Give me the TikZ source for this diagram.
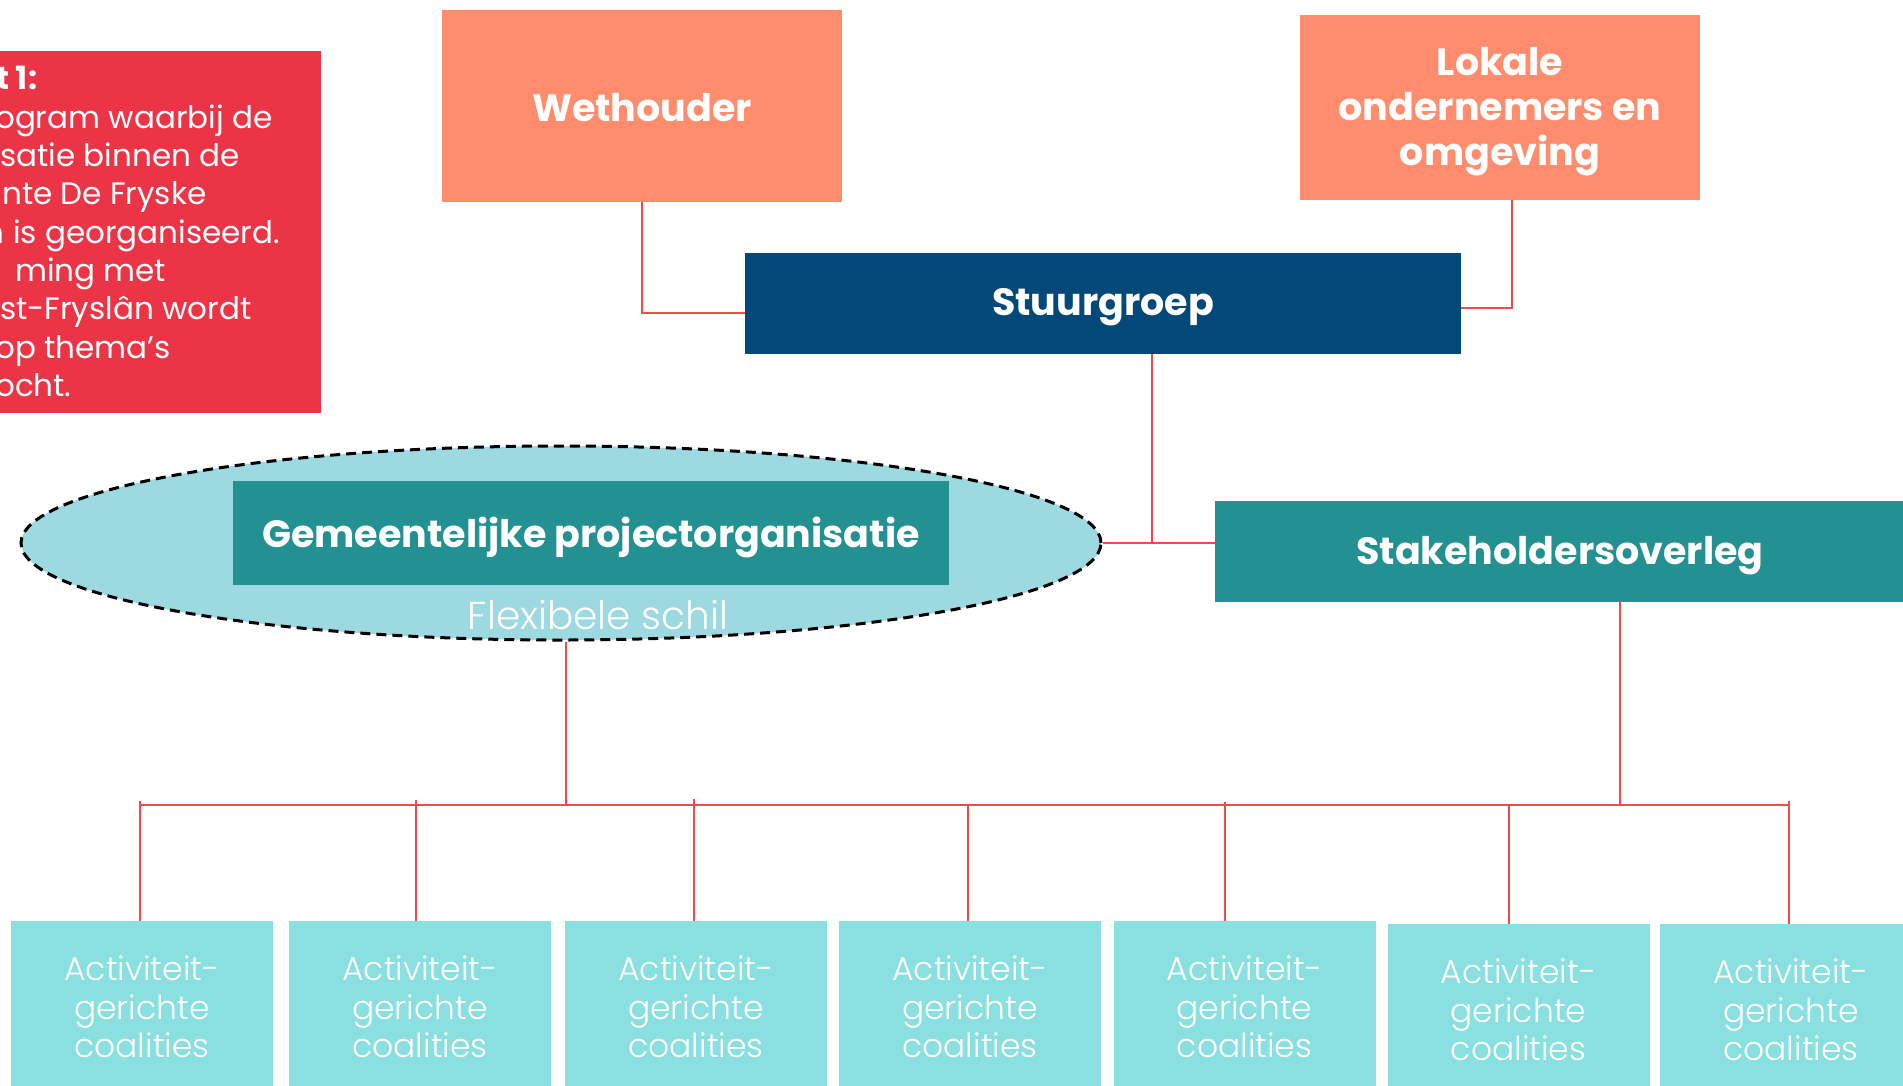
\documentclass[tikz,border=0pt]{standalone}
\usepackage{fontspec}
\setmainfont{Poppins}
\newfontfamily\lightfont{Poppins Light}
\usetikzlibrary{shapes.geometric,calc}
\definecolor{salmon}{HTML}{FF8C6C}
\definecolor{navy}{HTML}{02497A}
\definecolor{tealbox}{HTML}{239192}
\definecolor{shell}{HTML}{9CD9E0}
\definecolor{coal}{HTML}{8AE0E1}
\definecolor{redbox}{HTML}{EC3447}
\definecolor{linered}{HTML}{F04A4A}
\tikzset{
  box/.style={rectangle, inner sep=0pt, outer sep=0pt, text=white, align=center},
  headlbl/.style={label={[font=\fontsize{38}{45}\selectfont\bfseries, text=white, align=center, inner sep=0pt, yshift=-4pt]center:#1}},
  headlblup/.style={label={[font=\fontsize{38}{45}\selectfont\bfseries, text=white, align=center, inner sep=0pt, yshift=-1.5pt]center:#1}},
  coalbox/.style={box, fill=coal, minimum width=262pt, minimum height=172pt,
    font=\lightfont\fontsize{33}{38.5}\selectfont},
  conn/.style={draw=linered, line width=1.5pt},
  redtext/.style={anchor=base west, inner sep=0pt, text=white, font=\fontsize{31}{38}\selectfont},
}
\begin{document}
\begin{tikzpicture}[x=1pt,y=-1pt]
\useasboundingbox (0,0) rectangle (1903,1085);
\clip (0,0) rectangle (1903,1085);
\fill[white] (0,0) rectangle (1903,1085);

% red text box
\fill[redbox] (-10,51) rectangle (321,413);
\node[redtext, font=\fontsize{32}{38}\selectfont\bfseries] (r1) at (-4,89) {t 1:};
\node[redtext] (r2) at (-5,128) {ogram waarbij de};
\node[redtext] (r3) at (0,166) {satie binnen de};
\node[redtext] (r4) at (2,204) {nte De Fryske};
\node[redtext] (r5a) at (-16,243) {n};
\node[redtext] (r5) at (13,243) {is georganiseerd.};
\node[redtext] (r6) at (15,281) {ming met};
\node[redtext] (r7) at (0,319) {st-Fryslân wordt};
\node[redtext] (r8) at (-5,358) {op thema’s};
\node[redtext] (r9) at (-5,396) {ocht.};

% top boxes
\node[box, fill=salmon, minimum width=400pt, minimum height=192pt, headlblup={Wethouder}] (wet) at (642,106) {};
\node[box, fill=salmon, minimum width=400pt, minimum height=185pt, headlbl={Lokale\\ondernemers en\\omgeving}] (lok) at (1500,107.5) {};
\node[box, fill=navy, minimum width=716pt, minimum height=101pt, headlbl={Stuurgroep}] (stuur) at (1103,303.5) {};

% shell
\node[ellipse, fill=shell, draw=black, dash pattern=on 10pt off 6pt, line width=3pt,
  minimum width=1080pt, minimum height=194pt, inner sep=0pt] (ell) at (561,543) {};
\node[box, fill=tealbox, minimum width=716pt, minimum height=104pt, headlbl={Gemeentelijke projectorganisatie}] (gem) at (591,533) {};
\node[inner sep=0pt, text=white, font=\lightfont\fontsize{39}{42}\selectfont] (flex) at (598,615) {Flexibele schil};
\node[box, fill=tealbox, minimum width=690pt, minimum height=101pt, headlbl={Stakeholdersoverleg}] (stake) at (1560,551.5) {};

% bottom boxes
\node[coalbox] (b1) at (142,1007) {Activiteit-\\gerichte\\coalities};
\node[coalbox] (b2) at (420,1007) {Activiteit-\\gerichte\\coalities};
\node[coalbox] (b3) at (696,1007) {Activiteit-\\gerichte\\coalities};
\node[coalbox] (b4) at (970,1007) {Activiteit-\\gerichte\\coalities};
\node[coalbox] (b5) at (1244.5,1007) {Activiteit-\\gerichte\\coalities};
\node[coalbox] (b6) at (1518.5,1010) {Activiteit-\\gerichte\\coalities};
\node[coalbox] (b7) at (1791,1010) {Activiteit-\\gerichte\\coalities};

% connectors
\coordinate (busL) at (140,805);
\coordinate (busR) at (1789,805);
\draw[conn] (wet.south) |- ([yshift=-9.5pt]stuur.west);
\draw[conn] ([xshift=12pt]lok.south) |- ([yshift=-4.5pt]stuur.east);
\draw[conn] ([xshift=49pt]stuur.south) -- ([xshift=49pt]stuur.south |- ell.east);
\draw[conn] (ell.east) -- (stake.west |- ell.east);
\draw[conn] ([xshift=5pt]ell.south) -- ([xshift=5pt]ell.south |- busL);
\draw[conn] ([xshift=60pt]stake.south) -- ([xshift=60pt]stake.south |- busL);
\draw[conn] (busL) -- (busR);
\draw[conn] ($(b1.north |- busL)+(-2,-4)$) -- ([xshift=-2pt]b1.north);
\draw[conn] ($(b2.north |- busL)+(-4,-5)$) -- ([xshift=-4pt]b2.north);
\draw[conn] ($(b3.north |- busL)+(-2,-6)$) -- ([xshift=-2pt]b3.north);
\draw[conn] ($(b4.north |- busL)+(-2,0)$) -- ([xshift=-2pt]b4.north);
\draw[conn] ($(b5.north |- busL)+(-19.5,-3)$) -- ([xshift=-19.5pt]b5.north);
\draw[conn] ($(b6.north |- busL)+(-9.5,0)$) -- ([xshift=-9.5pt]b6.north);
\draw[conn] ($(b7.north |- busL)+(-2,-4)$) -- ([xshift=-2pt]b7.north);
\end{tikzpicture}
\end{document}
